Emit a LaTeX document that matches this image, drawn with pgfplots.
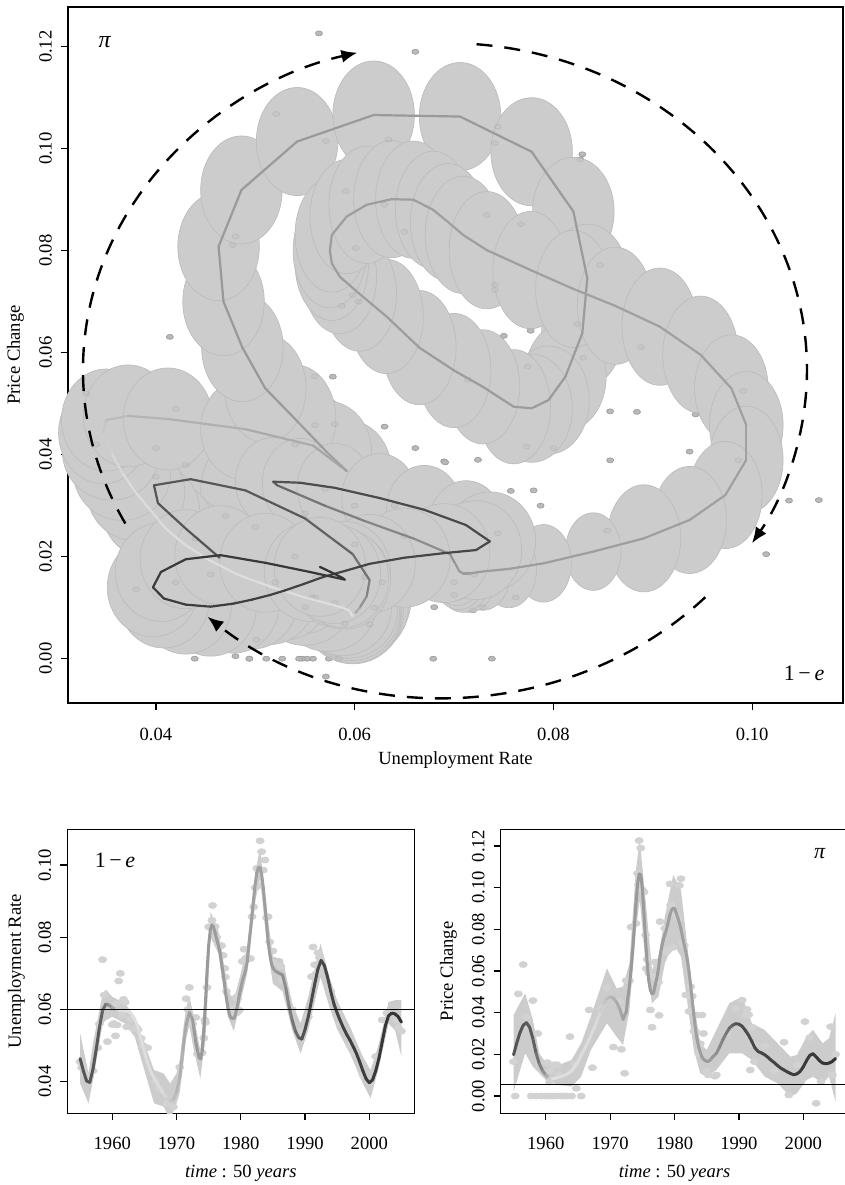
\documentclass[border=0pt]{standalone}
\usepackage{pgfplots}
\pgfplotsset{compat=1.18}
\usepackage{pgfplotstable}
\usetikzlibrary{arrows.meta}
\usepackage{fontspec}
\setmainfont{Liberation Serif}

\definecolor{ellfill}{HTML}{CCCCCC}
\definecolor{elldraw}{HTML}{BDBDBD}
\definecolor{dotfill}{HTML}{BABABA}
\definecolor{dotdraw}{HTML}{999999}
\definecolor{bandfill}{HTML}{CCCCCC}
\definecolor{bdot}{HTML}{D2D2D2}

\pgfplotsset{colormap={tgray}{gray(0cm)=(0.33); gray(3cm)=(0.35); gray(5cm)=(0.6); gray(6cm)=(0.88); gray(13cm)=(0.86); gray(15cm)=(0.72); gray(18cm)=(0.6); gray(28cm)=(0.63); gray(31cm)=(0.6); gray(33cm)=(0.48); gray(35cm)=(0.3); gray(50cm)=(0.2)}}

\pgfplotstableread{
t u p
1955.0 0.0464 0.0198
1955.5 0.0430 0.0255
1956.0 0.0402 0.0305
1956.5 0.0398 0.0340
1957.0 0.0435 0.0352
1957.5 0.0490 0.0330
1958.0 0.0550 0.0275
1958.5 0.0598 0.0205
1959.0 0.0615 0.0154
1959.5 0.0612 0.0122
1960.0 0.0605 0.0100
1960.5 0.0600 0.0088
1961.0 0.0598 0.0084
1961.5 0.0597 0.0085
1962.0 0.0596 0.0090
1962.5 0.0594 0.0095
1963.0 0.0588 0.0100
1963.5 0.0573 0.0108
1964.0 0.0550 0.0120
1964.5 0.0517 0.0140
1965.0 0.0482 0.0165
1965.5 0.0452 0.0195
1966.0 0.0428 0.0225
1966.5 0.0410 0.0255
1967.0 0.0395 0.0290
1967.5 0.0380 0.0325
1968.0 0.0366 0.0365
1968.5 0.0355 0.0405
1969.0 0.0347 0.0443
1969.5 0.0350 0.0468
1970.0 0.0372 0.0476
1970.5 0.0412 0.0470
1971.0 0.0490 0.0450
1971.5 0.0558 0.0418
1972.0 0.0592 0.0368
1972.5 0.0572 0.0405
1972.75 0.0540 0.0470
1973.00 0.0510 0.0530
1973.25 0.0487 0.0610
1973.50 0.0468 0.0700
1973.75 0.0463 0.0808
1974.00 0.0486 0.0919
1974.25 0.0542 0.1014
1974.50 0.0619 0.1066
1974.75 0.0706 0.1063
1975.00 0.0778 0.0994
1975.25 0.0820 0.0877
1975.50 0.0834 0.0746
1975.75 0.0829 0.0638
1976.00 0.0812 0.0553
1976.25 0.0795 0.0507
1976.50 0.0778 0.0491
1976.75 0.0760 0.0494
1977.00 0.0729 0.0533
1977.25 0.0700 0.0565
1977.50 0.0665 0.0610
1977.75 0.0632 0.0671
1978.00 0.0605 0.0715
1978.25 0.0585 0.0749
1978.50 0.0577 0.0775
1978.75 0.0575 0.0800
1979.00 0.0577 0.0831
1979.25 0.0592 0.0867
1979.50 0.0612 0.0890
1979.75 0.0637 0.0901
1980.00 0.0659 0.0900
1980.25 0.0679 0.0880
1980.50 0.0694 0.0856
1980.75 0.0709 0.0831
1981.00 0.0733 0.0801
1981.25 0.0777 0.0762
1981.50 0.0820 0.0725
1981.75 0.0862 0.0692
1982.00 0.0907 0.0651
1982.25 0.0948 0.0596
1982.50 0.0979 0.0530
1982.75 0.0994 0.0458
1983.00 0.0994 0.0390
1983.25 0.0973 0.0321
1983.50 0.0937 0.0272
1983.75 0.0891 0.0236
1984.00 0.0840 0.0210
1984.25 0.0790 0.0187
1984.50 0.0755 0.0176
1984.75 0.0729 0.0171
1985.00 0.0715 0.0167
1985.25 0.0709 0.0167
1985.50 0.0705 0.0172
1985.75 0.0703 0.0180
1986.00 0.0700 0.0190
1986.5 0.0696 0.0205
1987.0 0.0660 0.0235
1987.5 0.0610 0.0270
1988.0 0.0570 0.0300
1988.5 0.0540 0.0325
1989.0 0.0522 0.0340
1989.5 0.0518 0.0347
1990.0 0.0545 0.0345
1990.5 0.0580 0.0335
1991.0 0.0625 0.0315
1991.5 0.0670 0.0292
1992.0 0.0712 0.0262
1992.5 0.0736 0.0230
1993.0 0.0722 0.0213
1993.5 0.0690 0.0207
1994.0 0.0650 0.0198
1994.5 0.0615 0.0186
1995.0 0.0590 0.0172
1995.5 0.0568 0.0160
1996.0 0.0548 0.0146
1996.5 0.0530 0.0134
1997.0 0.0515 0.0125
1997.5 0.0497 0.0116
1998.0 0.0478 0.0108
1998.5 0.0455 0.0102
1999.0 0.0430 0.0106
1999.5 0.0408 0.0118
2000.0 0.0397 0.0140
2000.5 0.0405 0.0170
2001.0 0.0430 0.0195
2001.5 0.0465 0.0203
2002.0 0.0510 0.0188
2002.5 0.0555 0.0170
2003.0 0.0583 0.0158
2003.5 0.0590 0.0155
2004.0 0.0588 0.0158
2004.5 0.0580 0.0166
2005.0 0.0565 0.0180
}\traj

\pgfplotstableread{
t u p
1955.00 0.0455 0.0165
1955.25 0.0439 0.0000
1955.75 0.0420 0.0490
1956.50 0.0414 0.0631
1957.00 0.0430 0.0380
1957.75 0.0494 0.0000
1958.00 0.0560 0.0458
1958.50 0.0738 0.0000
1958.75 0.0640 0.0300
1959.00 0.0610 0.0160
1959.25 0.0511 0.0000
1960.00 0.0558 0.0000
1960.25 0.0561 0.0160
1960.50 0.0527 0.0000
1960.60 0.0615 0.0067
1960.75 0.0557 0.0120
1961.00 0.0679 0.0000
1961.25 0.0700 0.0150
1961.50 0.0584 0.0000
1961.75 0.0628 0.0150
1962.00 0.0620 0.0100
1962.25 0.0552 0.0000
1962.75 0.0574 0.0000
1963.25 0.0547 0.0000
1963.75 0.0550 0.0285
1964.00 0.0544 0.0000
1964.50 0.0520 0.0150
1964.75 0.0501 0.0037
1965.50 0.0494 0.0000
1966.75 0.0400 0.0413
1967.25 0.0380 0.0136
1968.50 0.0340 0.0420
1969.50 0.0330 0.0520
1970.50 0.0440 0.0235
1971.50 0.0630 0.0455
1971.75 0.0600 0.0224
1972.00 0.0661 0.0413
1972.25 0.0580 0.0109
1972.50 0.0560 0.0554
1973.00 0.0578 0.0553
1973.25 0.0477 0.0811
1974.00 0.0480 0.0828
1974.25 0.0521 0.1068
1974.40 0.0571 0.1015
1974.50 0.0564 0.1226
1974.75 0.0661 0.1190
1975.00 0.0829 0.0989
1975.25 0.0827 0.0979
1975.50 0.0847 0.0772
1975.60 0.0888 0.0611
1975.75 0.0824 0.0656
1976.00 0.0830 0.0590
1976.25 0.0800 0.0413
1976.50 0.0780 0.0330
1976.75 0.0774 0.0573
1977.00 0.0777 0.0643
1977.25 0.0750 0.0633
1977.50 0.0714 0.0547
1977.60 0.0690 0.0387
1977.75 0.0650 0.0837
1978.50 0.0601 0.0805
1978.75 0.0587 0.0692
1979.00 0.0604 0.0700
1979.30 0.0634 0.1018
1979.40 0.0591 0.0917
1979.50 0.0630 0.0890
1979.75 0.0598 0.0713
1980.25 0.0733 0.0870
1980.50 0.0767 0.0852
1980.75 0.0741 0.1011
1981.00 0.0744 0.1043
1981.25 0.0741 0.0733
1981.50 0.0741 0.0723
1981.75 0.0857 0.0485
1982.00 0.0884 0.0484
1982.25 0.0937 0.0406
1982.50 0.0991 0.0525
1982.75 0.0943 0.0479
1983.00 0.1067 0.0311
1983.25 0.1037 0.0310
1983.50 0.0986 0.0389
1983.75 0.1014 0.0205
1984.00 0.0854 0.0251
1984.25 0.0857 0.0389
1984.50 0.0787 0.0300
1985.00 0.0762 0.0120
1985.25 0.0729 0.0101
1986.25 0.0719 0.0095
1986.50 0.0680 0.0101
1988.00 0.0600 0.0300
1989.50 0.0540 0.0420
1990.50 0.0580 0.0460
1991.00 0.0691 0.0385
1991.25 0.0773 0.0416
1991.50 0.0724 0.0390
1991.75 0.0700 0.0125
1992.00 0.0757 0.0329
1992.25 0.0744 0.0246
1992.40 0.0720 0.0165
1994.00 0.0650 0.0240
1995.50 0.0560 0.0120
1997.00 0.0500 0.0258
1997.75 0.0480 0.0005
1999.00 0.0420 0.0150
2000.25 0.0400 0.0357
2001.00 0.0470 0.0280
2002.00 0.0571 -0.0035
2002.75 0.0590 0.0069
2004.25 0.0570 0.0333
2004.50 0.0550 0.0101
2005.00 0.0540 0.0200
}\rawdata

% band outlines: upper edge forward in time, then lower edge backward
\pgfplotstableread{
t y
1955.0 0.0534
1956.3 0.0423
1957.0 0.0506
1958.5 0.0644
1959.0 0.0655
1960.0 0.0635
1962.0 0.0617
1963.5 0.0580
1965.0 0.0506
1966.5 0.0432
1968.0 0.0423
1969.0 0.0395
1970.0 0.0423
1970.5 0.0460
1971.0 0.0540
1971.5 0.0605
1972.0 0.0635
1972.7 0.0580
1973.7 0.0487
1974.5 0.0650
1975.3 0.0870
1976.5 0.0820
1978.0 0.0654
1978.9 0.0625
1980.0 0.0700
1981.0 0.0775
1982.3 0.0985
1983.0 0.1046
1984.0 0.0880
1985.0 0.0746
1986.5 0.0740
1988.0 0.0617
1989.3 0.0561
1990.5 0.0635
1992.4 0.0783
1993.8 0.0690
1995.0 0.0625
1997.0 0.0552
1999.0 0.0469
2000.2 0.0432
2001.5 0.0506
2003.0 0.0621
2004.0 0.0626
2005.0 0.0626
2005.0 0.0469
2004.0 0.0543
2003.0 0.0561
2001.5 0.0441
2000.2 0.0354
1999.0 0.0395
1997.0 0.0478
1995.0 0.0545
1993.8 0.0607
1992.4 0.0690
1990.5 0.0543
1989.3 0.0478
1988.0 0.0543
1986.5 0.0650
1985.0 0.0672
1984.0 0.0790
1983.0 0.0963
1982.3 0.0905
1981.0 0.0700
1980.0 0.0625
1978.9 0.0540
1978.0 0.0580
1976.5 0.0755
1975.3 0.0801
1974.5 0.0520
1973.7 0.0409
1972.7 0.0487
1972.0 0.0555
1971.5 0.0520
1971.0 0.0440
1970.5 0.0370
1970.0 0.0340
1969.0 0.0294
1968.0 0.0331
1966.5 0.0340
1965.0 0.0432
1963.5 0.0524
1962.0 0.0561
1960.0 0.0580
1959.0 0.0570
1958.5 0.0561
1957.0 0.0404
1956.3 0.0340
1955.0 0.0395
}\bandU

\pgfplotstableread{
t y
1955.0 0.0389
1956.8 0.0493
1958.0 0.0365
1959.0 0.0205
1960.0 0.0160
1962.0 0.0149
1964.0 0.0173
1965.5 0.0253
1967.0 0.0381
1969.5 0.0613
1971.0 0.0517
1972.0 0.0525
1973.0 0.0637
1974.0 0.1085
1974.6 0.1229
1975.5 0.0941
1976.5 0.0605
1977.5 0.0669
1978.5 0.0861
1979.8 0.1061
1981.0 0.0989
1982.0 0.0717
1983.0 0.0445
1984.0 0.0253
1985.0 0.0221
1986.5 0.0317
1988.5 0.0445
1990.5 0.0477
1992.0 0.0349
1994.0 0.0317
1996.0 0.0253
1998.0 0.0189
1999.0 0.0197
2000.5 0.0285
2001.5 0.0317
2003.0 0.0253
2004.0 0.0277
2005.0 0.0397
2005.0 -0.0027
2004.0 0.0093
2003.0 0.0061
2001.5 0.0093
2000.5 0.0077
1999.0 0.0013
1998.0 -0.0003
1996.0 0.0061
1994.0 0.0093
1992.0 0.0173
1990.5 0.0205
1988.5 0.0205
1986.5 0.0125
1985.0 0.0093
1984.0 0.0109
1983.0 0.0221
1982.0 0.0445
1981.0 0.0669
1979.8 0.0733
1978.5 0.0637
1977.5 0.0477
1976.5 0.0445
1975.5 0.0637
1974.6 0.0941
1974.0 0.0797
1973.0 0.0413
1972.0 0.0245
1971.0 0.0285
1969.5 0.0349
1967.0 0.0221
1965.5 0.0093
1964.0 0.0045
1962.0 0.0053
1960.0 0.0077
1959.0 0.0109
1958.0 0.0141
1956.8 0.0205
1955.0 0.0021
}\bandP

\pgfplotsset{
  rstyle/.style={
    scale only axis, clip marker paths=true,
    axis line style={line width=0.65pt},
    tick style={line width=0.65pt, black},
    tick align=outside, major tick length=3.5pt,
    xtick pos=left, ytick pos=left,
    scaled x ticks=false, scaled y ticks=false,
    yticklabel style={rotate=90},
    yticklabel shift=1pt,
    tick label style={font=\fontsize{9.3}{11}\selectfont},
    label style={font=\fontsize{9.3}{11}\selectfont},
    colormap name=tgray, point meta min=1955, point meta max=2005,
  },
  ellset/.style n args={4}{only marks, mark=*, restrict expr to domain={\coordindex}{#1:#2},
    mark size=#3, mark options={xscale=#4, fill=ellfill, draw=elldraw, line width=0.35pt}},
}

\begin{document}
\begin{tikzpicture}
\path[use as bounding box] (0,0) rectangle (422.5pt,-592.5pt);

% ---------------- main phase plot ----------------
\begin{axis}[rstyle, clip=false,
  at={(34pt,-3.5pt)}, anchor=north west,
  width=387.5pt, height=348pt,
  xmin=0.03115, xmax=0.10913, ymin=-0.00869, ymax=0.12778,
  xtick={0.04,0.06,0.08,0.10}, xticklabels={0.04,0.06,0.08,0.10},
  ytick={0,0.02,0.04,0.06,0.08,0.10,0.12},
  yticklabels={0.00,0.02,0.04,0.06,0.08,0.10,0.12},
  xticklabel shift=5.4pt,
  xlabel={Unemployment Rate}, ylabel={Price Change},
  xlabel style={at={(axis description cs:0.5,-0.0819)}, anchor=center},
  ylabel style={at={(axis description cs:-0.0677,0.5)}, anchor=center},
]
\addplot[only marks, mark=*, mark size=1.25pt, mark options={xscale=1.4, fill=dotfill, draw=dotdraw, line width=0.3pt}] table[x=u,y=p]{\rawdata};
\addplot[ellset={0}{9}{27.54pt}{0.812}] table[x=u,y=p]{\traj};
\addplot[ellset={10}{27}{23.97pt}{1.016}] table[x=u,y=p]{\traj};
\addplot[ellset={28}{35}{25.5pt}{0.877}] table[x=u,y=p]{\traj};
\addplot[ellset={36}{51}{27.03pt}{0.754}] table[x=u,y=p]{\traj};
\addplot[ellset={52}{62}{28.56pt}{0.644}] table[x=u,y=p]{\traj};
\addplot[ellset={63}{74}{29.33pt}{0.644}] table[x=u,y=p]{\traj};
\addplot[ellset={75}{80}{26.78pt}{0.687}] table[x=u,y=p]{\traj};
\addplot[ellset={81}{89}{19.38pt}{0.718}] table[x=u,y=p]{\traj};
\addplot[ellset={90}{101}{22.19pt}{0.851}] table[x=u,y=p]{\traj};
\addplot[ellset={102}{127}{24.74pt}{0.924}] table[x=u,y=p]{\traj};
\addplot[only marks, mark=*, mark size=1.25pt, opacity=0.3, mark options={xscale=1.4, fill=dotfill, draw=dotdraw, line width=0.3pt}] table[x=u,y=p]{\rawdata};
\addplot[mesh, line width=1.1pt, line cap=round, line join=round, point meta=\thisrow{t}] table[x=u,y=p]{\traj};

\draw[line width=1.2pt, dash pattern=on 8pt off 6pt, -{Latex[length=8pt,width=6.5pt]}]
  (axis cs:0.06908,0.05661) ++(208:181pt and 163.5pt) arc[start angle=208, end angle=104, x radius=181pt, y radius=163.5pt];
\draw[line width=1.2pt, dash pattern=on 8pt off 6pt, -{Latex[length=8pt,width=6.5pt]}]
  (axis cs:0.06908,0.05661) ++(85:181pt and 163.5pt) arc[start angle=85, end angle=-32, x radius=181pt, y radius=163.5pt];
\draw[line width=1.2pt, dash pattern=on 8pt off 6pt, -{Latex[length=8pt,width=6.5pt]}]
  (axis cs:0.06908,0.05661) ++(-44:181pt and 163.5pt) arc[start angle=-44, end angle=-131, x radius=181pt, y radius=163.5pt];

\node[font=\fontsize{12}{14}\selectfont] at (axis description cs:0.0477,0.9497) {\textit{π}};
\node[font=\fontsize{11}{13}\selectfont] at (axis description cs:0.9497,0.0431) {1\,−\,\textit{e}};
\end{axis}

% ---------------- bottom left: unemployment ----------------
\begin{axis}[rstyle,
  at={(33.65pt,-414.65pt)}, anchor=north west,
  width=173.5pt, height=142pt,
  xmin=1953, xmax=2007, ymin=0.03125, ymax=0.1099,
  xtick={1960,1970,1980,1990,2000}, xticklabels={1960,1970,1980,1990,2000},
  ytick={0.04,0.06,0.08,0.10}, yticklabels={0.04,0.06,0.08,0.10},
  xticklabel shift=5pt,
  xlabel={\textit{time} : 50 \textit{years}}, ylabel={Unemployment Rate},
  xlabel style={at={(axis description cs:0.5,-0.21)}, anchor=center},
  ylabel style={at={(axis description cs:-0.1464,0.5)}, anchor=center},
]
\addplot[fill=bandfill, draw=none] table[x=t,y=y]{\bandU} -- cycle;
\addplot[only marks, mark=*, mark size=1.5pt, mark options={xscale=1.35, fill=bdot, draw=bdot}] table[x=t,y=u]{\rawdata};
\addplot[mesh, line width=1.5pt, line cap=round, line join=round, point meta=\thisrow{t}] table[x=t,y=u]{\traj};
\addplot[black, line width=0.5pt] coordinates {(1953,0.06) (2007,0.06)};
\node[font=\fontsize{11}{13}\selectfont] at (axis description cs:0.1375,0.89) {1\,−\,\textit{e}};
\end{axis}

% ---------------- bottom right: price change ----------------
\begin{axis}[rstyle,
  at={(250.35pt,-414.65pt)}, anchor=north west,
  width=173.85pt, height=142pt,
  xmin=1953, xmax=2007, ymin=-0.0083, ymax=0.128,
  xtick={1960,1970,1980,1990,2000}, xticklabels={1960,1970,1980,1990,2000},
  ytick={0,0.02,0.04,0.06,0.08,0.10,0.12},
  yticklabels={0.00,0.02,0.04,0.06,0.08,0.10,0.12},
  xticklabel shift=5pt,
  xlabel={\textit{time} : 50 \textit{years}}, ylabel={Price Change},
  xlabel style={at={(axis description cs:0.5,-0.21)}, anchor=center},
  ylabel style={at={(axis description cs:-0.150,0.5)}, anchor=center},
]
\addplot[fill=bandfill, draw=none] table[x=t,y=y]{\bandP} -- cycle;
\addplot[only marks, mark=*, mark size=1.5pt, mark options={xscale=1.35, fill=bdot, draw=bdot}] table[x=t,y=p]{\rawdata};
\addplot[mesh, line width=1.5pt, line cap=round, line join=round, point meta=\thisrow{t}] table[x=t,y=p]{\traj};
\addplot[black, line width=0.5pt] coordinates {(1953,0.0054) (2007,0.0054)};
\node[font=\fontsize{11}{13}\selectfont] at (axis description cs:0.918,0.913) {\textit{π}};
\end{axis}
\end{tikzpicture}
\end{document}
